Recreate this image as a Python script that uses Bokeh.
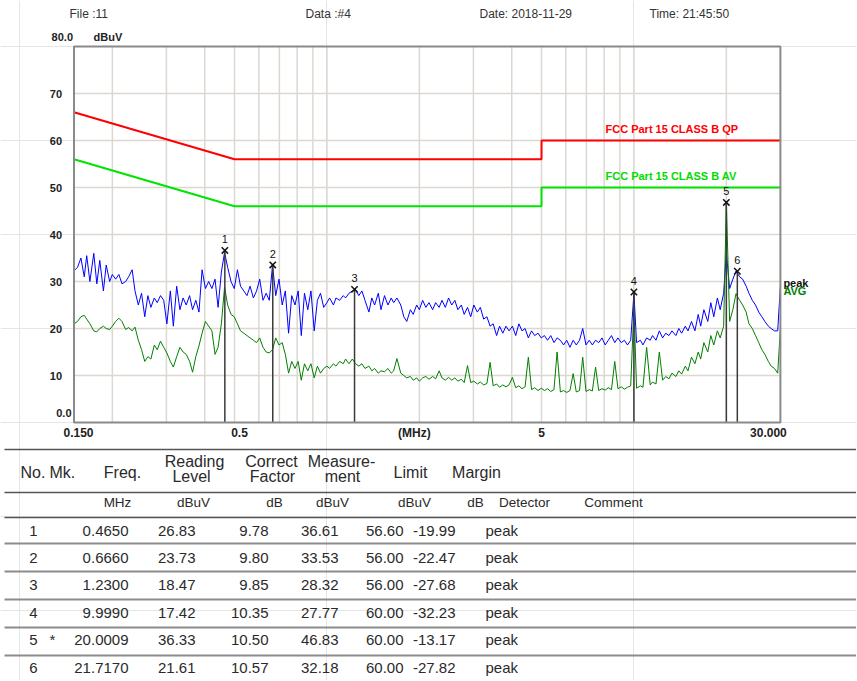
from bokeh.plotting import figure
from bokeh.models import Range1d, LinearScale
from bokeh.embed import file_html
from bokeh.resources import INLINE
from bokeh.core.properties import value

FONT = "Liberation Sans"

# ---------------- data ----------------
# sweep points: E96 mantissas per decade (0.15 MHz .. 30 MHz)
E96 = [1.00, 1.02, 1.05, 1.07, 1.10, 1.13, 1.15, 1.18, 1.21, 1.24,
       1.27, 1.30, 1.33, 1.37, 1.40, 1.43, 1.47, 1.50, 1.54, 1.58,
       1.62, 1.65, 1.69, 1.74, 1.78, 1.82, 1.87, 1.91, 1.96, 2.00,
       2.05, 2.10, 2.15, 2.21, 2.26, 2.32, 2.37, 2.43, 2.49, 2.55,
       2.61, 2.67, 2.74, 2.80, 2.87, 2.94, 3.01, 3.09, 3.16, 3.24,
       3.32, 3.40, 3.48, 3.57, 3.65, 3.74, 3.83, 3.92, 4.02, 4.12,
       4.22, 4.32, 4.42, 4.53, 4.64, 4.75, 4.87, 4.99, 5.11, 5.23,
       5.36, 5.49, 5.62, 5.76, 5.90, 6.04, 6.19, 6.34, 6.49, 6.65,
       6.81, 6.98, 7.15, 7.32, 7.50, 7.68, 7.87, 8.06, 8.25, 8.45,
       8.66, 8.87, 9.09, 9.31, 9.53, 9.76]
FREQ = ([round(m * 0.1, 4) for m in E96[17:]] + list(E96)
        + [round(m * 10, 3) for m in E96[:46]] + [30.0])

PEAK = [
    # 0.150 - 0.976 MHz
    32.3, 33, 35, 31, 35.5, 30, 36, 29.5, 34.5, 28,
    33.5, 30, 31.5, 30.5, 31.5, 29.5, 30, 31, 32.5, 28,
    25, 27.5, 22.5, 27, 24.5, 26.5, 25.5, 27, 26, 21,
    28, 20.5, 29, 24, 26.5, 25, 27, 24, 26, 23.5,
    32.5, 28.5, 30, 28.5, 30.5, 24.5, 32, 36.2, 33, 30,
    28.5, 32.5, 29, 28, 27, 29, 26.5, 28, 30.5, 26,
    27.5, 26, 33.5, 27, 30.5, 25, 28, 19, 27, 25,
    28, 18.5, 27.5, 24, 28, 19.5, 26, 27.5, 24.5,
    # 1.00 - 9.76 MHz
    25.5, 26.5, 25, 26.5, 26, 27, 26.5, 27.5, 28, 28.3,
    27, 28, 26, 23.5, 26.5, 25, 27.5, 24, 27, 25,
    26.5, 25.5, 26.5, 25, 22.5, 21.5, 24, 23, 25, 24,
    26, 24.5, 25.5, 24, 25.5, 24.5, 26, 24.5, 26.5, 25,
    26, 24, 25, 23, 24.5, 22.5, 25, 23.5, 24.5, 22,
    22.5, 20.5, 21, 18.5, 20.5, 19, 20.5, 19.5, 20.5, 18.5,
    21, 19.5, 20, 18, 19.5, 18.5, 19, 18, 18.5, 17.5,
    18.5, 17, 18, 17.5, 16.5, 17.5, 16, 17.5, 16.5, 17.5,
    20, 16.5, 17.5, 16.5, 17.5, 17, 18, 16.5, 17.5, 18.5,
    17, 18, 17, 17.5, 16.5, 17.5,
    # 10.0 - 29.4 MHz
    27.5, 17, 17.5, 16.5, 18, 17.5, 18.5, 17.5, 19.5, 18,
    19, 18.5, 19.5, 18.5, 20, 19, 20.5, 19.5, 21.5, 19.5,
    23, 20.5, 24, 21.5, 25.5, 22.5, 26.5, 24, 27.5, 36.2,
    28.5, 30.5, 32.2, 31, 30.5, 29, 27.5, 26, 25, 23.5,
    22.5, 21.5, 20.5, 20, 19.5, 19.5,
    # 30 MHz
    29]

AVG = [
    # 0.150 - 0.976 MHz
    21, 21.5, 22.5, 22.8, 22, 21, 19.5, 19.3, 20, 20.5,
    20, 19.8, 20.5, 21.5, 22.2, 21.5, 19.8, 20.2, 19.5, 20.3,
    17.5, 15.5, 13, 14, 13.5, 16.5, 15.5, 17.3, 16, 14.8,
    13, 11.8, 14, 16, 15, 14.5, 13, 10.7, 14, 16.3,
    19, 21.5, 20.5, 19.5, 14.5, 16, 21, 28.8, 25, 23,
    22.5, 21, 19.5, 19, 18.5, 18, 17.5, 17, 18, 16,
    15, 14.8, 15.5, 18, 16.5, 17, 14.5, 10.5, 13, 11.5,
    13, 9, 12.5, 11, 12.5, 9.5, 12, 10.5, 11.5,
    # 1.00 - 9.76 MHz
    12, 11.5, 12.5, 12, 13, 12.5, 13.5, 12.5, 13.5, 12.5,
    12, 12.5, 11.5, 12, 11, 11.5, 10.5, 11, 10.8, 11.5,
    10.5, 11, 13.6, 10.5, 10, 9.5, 9.8, 9, 9.5, 8.8,
    9.5, 9.8, 9.2, 9.8, 9.3, 11, 9.5, 9, 9.6, 9,
    9.5, 8.8, 9.2, 8.5, 12.1, 8.5, 8.8, 8.2, 8.6, 8,
    8.3, 12.8, 7.8, 8.2, 7.5, 8, 7.6, 8, 9.6, 7.4,
    7.8, 7.2, 7.6, 13.9, 7, 7.4, 6.8, 7.3, 6.8, 7.2,
    6.6, 7, 15, 6.5, 6.8, 6.4, 6.8, 10.4, 6.5, 6.8,
    13.9, 6.6, 7, 6.7, 11.8, 6.8, 7.2, 6.9, 7.4, 7,
    13, 7.2, 7.6, 7.1, 7.5, 7.8,
    # 10.0 - 29.4 MHz
    24.5, 7.3, 7.8, 7.5, 16, 8, 8.6, 8.2, 15, 9,
    9.8, 9.3, 10.5, 9.8, 11, 10.3, 12, 11, 13.9, 12.5,
    15, 13.5, 17, 15, 18.5, 16.5, 19.5, 18, 20.5, 47,
    21.5, 24, 27.4, 26, 25, 23.5, 21, 20, 18.5, 17,
    15.5, 14.5, 13, 12, 11.5, 10.5,
    # 30 MHz
    20]

assert len(PEAK) == len(FREQ) and len(AVG) == len(FREQ)

# limit lines
LIM_F = [0.15, 0.5, 5, 5, 30]
QP_LIMIT = [66, 56, 56, 60, 60]
AV_LIMIT = [56, 46, 46, 50, 50]
LIMIT_NAMES = ["FCC Part 15 CLASS B QP", "FCC Part 15 CLASS B AV"]

# markers / table
NO = ["1", "2", "3", "4", "5", "6"]
MK = ["", "", "", "", "*", ""]
MK_FREQ = [0.4650, 0.6660, 1.2300, 9.9990, 20.0009, 21.7170]
READING = [26.83, 23.73, 18.47, 17.42, 36.33, 21.61]
FACTOR = [9.78, 9.80, 9.85, 10.35, 10.50, 10.57]
MEAS = [36.61, 33.53, 28.32, 27.77, 46.83, 32.18]
LIMIT = [56.60, 56.00, 56.00, 60.00, 60.00, 60.00]
MARGIN = [-19.99, -22.47, -27.68, -32.23, -13.17, -27.82]
DETECTOR = ["peak", "peak", "peak", "peak", "peak", "peak"]

F_MIN, F_MAX = 0.15, 30.0
Y_MIN, Y_MAX = 0, 80
X_TICKS = [0.15, 0.5, 5, 30]
X_TICK_LABELS = ["0.150", "0.5", "5", "30.000"]
Y_TICKS = [10, 20, 30, 40, 50, 60, 70]
Y_TICK_LABELS = ["10", "20", "30", "40", "50", "60", "70"]
GRID_F = [0.2, 0.3, 0.4, 0.5, 0.6, 0.7, 0.8, 0.9, 1, 2, 3, 4, 5, 6, 7, 8, 9, 10, 20]

HEADER = ["File :11", "Data :#4", "Date: 2018-11-29", "Time: 21:45:50"]
HEAD_COLS = ["No.", "Mk.", "Freq.", "Reading", "Level", "Correct", "Factor",
             "Measure-", "ment", "Limit", "Margin"]
UNITS = ["MHz", "dBuV", "dB", "dBuV", "dBuV", "dB", "Detector", "Comment"]

# ---------------- figure ----------------
W, H = 856, 680
# the plot frame spans the canvas; data ranges chosen so that the box
# 0.15-30 MHz x 0-80 dBuV sits at x 73.5..780, y 46..422 of the page
p = figure(width=W, height=H, x_axis_type="log",
           x_range=Range1d(0.08643, 53.09), y_range=Range1d(-54.89, 89.79),
           extra_x_ranges={"px": Range1d(0, W)},
           extra_y_ranges={"px": Range1d(H, 0)},
           extra_x_scales={"px": LinearScale()},
           extra_y_scales={"px": LinearScale()},
           x_axis_location=None, y_axis_location=None,
           min_border=0, output_backend="svg", toolbar_location=None)
p.outline_line_color = None
p.background_fill_color = "white"
p.border_fill_color = "white"

PX = dict(x_range_name="px", y_range_name="px")
TXT = dict(text_font=value(FONT), text_baseline="middle")

# grid
p.segment(x0=GRID_F, y0=[Y_MIN] * len(GRID_F), x1=GRID_F, y1=[Y_MAX] * len(GRID_F),
          line_color="#dcd8d1", line_width=1.5)
p.segment(x0=[F_MIN] * len(Y_TICKS), y0=Y_TICKS, x1=[F_MAX] * len(Y_TICKS), y1=Y_TICKS,
          line_color="#dcd8d1", line_width=1.5)

# limit lines
p.line(LIM_F, QP_LIMIT, line_color="#ff0000", line_width=2)
p.line(LIM_F, AV_LIMIT, line_color="#00e400", line_width=2)
p.text(x=[8.08, 8.08], y=[62.55, 52.55], text=LIMIT_NAMES,
       text_color=["#ff0000", "#00dd00"], text_font_style="bold",
       text_font_size="11px", text_align="left", **TXT)

# traces
p.line(FREQ, PEAK, line_color="#0000ff", line_width=1)
p.line(FREQ, AVG, line_color="#008000", line_width=1)

# markers
p.segment(x0=MK_FREQ, y0=[Y_MIN] * len(MK_FREQ), x1=MK_FREQ, y1=MEAS,
          line_color="#3a3a3a", line_width=1.5)
p.scatter(MK_FREQ, MEAS, marker="x", size=9, line_color="#111111", line_width=1.5)
p.text(x=MK_FREQ, y=MEAS, text=NO, y_offset=-11, text_align="center",
       text_font_size="11px", text_color="#111111", **TXT)

# frame box
p.quad(left=[F_MIN], right=[F_MAX], bottom=[Y_MIN], top=[Y_MAX],
       fill_color=None, line_color="#8a8a8a", line_width=2)

# axis tick labels
p.text(x=X_TICKS, y=[Y_MIN] * len(X_TICKS), text=X_TICK_LABELS,
       x_offset=[4.5, 5, 0, -12], y_offset=10, text_align="center",
       text_font_style="bold", text_font_size="12px", text_color="#222222", **TXT)
p.text(x=[2.0], y=[Y_MIN], text=["(MHz)"], x_offset=-5, y_offset=10,
       text_align="center", text_font_style="bold", text_font_size="12px",
       text_color="#222222", **TXT)
p.text(x=[F_MIN] * len(Y_TICKS), y=Y_TICKS, text=Y_TICK_LABELS, x_offset=-12,
       text_align="right", text_font_style="bold", text_font_size="11px",
       text_color="#222222", **TXT)
p.text(x=[F_MIN, F_MIN], y=[Y_MIN, Y_MAX], text=["0.0", "80.0"], x_offset=[-2.5, -1],
       y_offset=-10, text_align="right", text_font_style="bold",
       text_font_size="11px", text_color="#222222", **TXT)
p.text(x=[F_MIN], y=[Y_MAX], text=["dBuV"], x_offset=19.5, y_offset=-10,
       text_align="left", text_font_style="bold", text_font_size="11px",
       text_color="#222222", **TXT)

# trace names at the right edge
p.text(x=[F_MAX, F_MAX], y=[29.6, 27.9], text=["peak", "AVG"], x_offset=3,
       text_align="left", text_font_style="bold", text_font_size="11px",
       text_color=["#111111", "#008000"], **TXT)

# header line
p.text(x=[69, 305, 479, 649], y=[13] * 4, text=HEADER, text_align="left",
       text_font_size="12px", text_color="#333333", **TXT, **PX)

# ---------------- table ----------------
p.segment(x0=[4, 4, 4], y0=[449, 492, 517], x1=[W, W, W], y1=[449, 492, 517],
          line_color="#555555", line_width=1.5, **PX)
ROW_LINES = [543, 571, 599, 627, 655]
p.segment(x0=[4] * 5, y0=ROW_LINES, x1=[W] * 5, y1=ROW_LINES,
          line_color="#8c8c8c", line_width=2, **PX)

p.text(x=[20, 49, 122, 194, 191, 271, 272, 341, 342, 410, 476],
       y=[472, 472, 472, 461, 476, 461, 476, 461, 476, 472, 472],
       text=HEAD_COLS, text_align=["left", "left"] + ["center"] * 9,
       text_font_size="16px", text_color="#2a2a2a", **TXT, **PX)
p.text(x=[117, 193, 274, 332, 414, 475, 524, 613], y=[502] * len(UNITS),
       text=UNITS, text_align="center", text_font_size="13.5px",
       text_color="#2a2a2a", **TXT, **PX)

ROW_Y = [530, 557, 584, 612, 639, 667]
COLS = [
    (NO, 33, "center"),
    (MK, 52, "center"),
    ([f"{v:.4f}" for v in MK_FREQ], 128, "right"),
    ([f"{v:.2f}" for v in READING], 195, "right"),
    ([f"{v:.2f}" for v in FACTOR], 268, "right"),
    ([f"{v:.2f}" for v in MEAS], 338, "right"),
    ([f"{v:.2f}" for v in LIMIT], 403, "right"),
    ([f"{v:.2f}" for v in MARGIN], 455, "right"),
    (DETECTOR, 485, "left"),
]
for texts, xc, al in COLS:
    p.text(x=[xc] * len(texts), y=ROW_Y, text=texts, text_align=al,
           text_font_size="15px", text_color="#2a2a2a", **TXT, **PX)

open("out.html", "w").write(file_html(p, INLINE))
